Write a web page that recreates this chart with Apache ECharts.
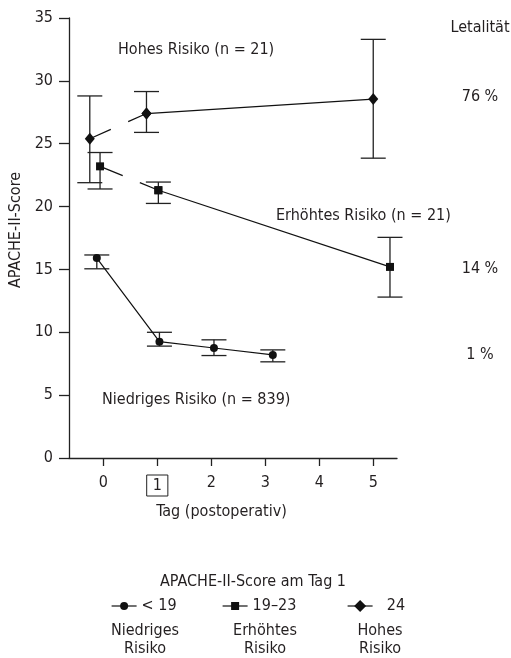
<!DOCTYPE html>
<html><head><meta charset="utf-8">
<script src="https://cdn.jsdelivr.net/npm/echarts@6/dist/echarts.min.js"></script>
<style>html,body{margin:0;padding:0;background:#fff}#c{width:511px;height:658px}</style>
</head><body><div id="c"></div>
<script>
// ---- data ----
const dayTicks = [0, 1, 2, 3, 4, 5];
const yTicks = [0, 5, 10, 15, 20, 25, 30, 35];
// Niedriges Risiko (< 19)
const lowX  = [-0.12, 1.04, 2.05, 3.14];
const lowY  = [15.9, 9.25, 8.75, 8.2];
const lowLo = [15.05, 8.9, 8.15, 7.65];
const lowHi = [16.15, 10.0, 9.4, 8.6];
// Erhöhtes Risiko (19–23)
const midX  = [-0.06, 1.02, 5.31];
const midY  = [23.2, 21.3, 15.2];
const midLo = [21.4, 20.25, 12.8];
const midHi = [24.3, 21.95, 17.55];
// Hohes Risiko (>= 24)
const highX  = [-0.25, 0.80, 5.0];
const highY  = [25.4, 27.4, 28.55];
const highLo = [21.9, 25.9, 23.85];
const highHi = [28.8, 29.15, 33.3];
const lethality = ['76 %', '14 %', '1 %'];
const groupNames = ['< 19', '19–23', '24'];
const groupLabels = ['Niedriges\nRisiko', 'Erhöhtes\nRisiko', 'Hohes\nRisiko'];

const FONT = "'Liberation Sans Narrow','DejaVu Sans Condensed','Noto Sans',sans-serif";
const FS = 16;
const TXT = '#231f20';
const pts = (xs, ys) => xs.map((x, i) => [x, ys[i]]);
const bars = (xs, lo, hi) => xs.map((x, i) => [x, lo[i], hi[i]]);

function errRender(params, api) {
  const x = api.value(0);
  const p = api.coord([x, api.value(2)]);
  const q = api.coord([x, api.value(1)]);
  const w = 12.5;
  const st = { stroke: '#222', lineWidth: 1.3 };
  return { type: 'group', children: [
    { type: 'line', shape: { x1: p[0], y1: p[1], x2: q[0], y2: q[1] }, style: st },
    { type: 'line', shape: { x1: p[0] - w, y1: p[1], x2: p[0] + w, y2: p[1] }, style: st },
    { type: 'line', shape: { x1: q[0] - w, y1: q[1], x2: q[0] + w, y2: q[1] }, style: st }
  ]};
}
function errSeries(data) {
  return { type: 'custom', renderItem: errRender, data: data, z: 1, silent: true };
}
const lineBase = (name, data, symbol, size, extra) => Object.assign({
  name: name, type: 'line', data: data, symbol: symbol, symbolSize: size,
  showSymbol: true, z: 3, silent: true,
  itemStyle: { color: '#111' },
  lineStyle: { color: '#111', width: 1.2 }
}, extra || {});

const txt = (text, x, y, extra) => ({ type: 'text', x: x, y: y,
  style: Object.assign({ text: text, font: FS + 'px ' + FONT, fill: TXT, align: 'center', verticalAlign: 'middle' }, extra || {}) });

const chart = echarts.init(document.getElementById('c'));
const legendLeft = [111, 222, 347];
const legendIconH = [10, 10, 15];
chart.setOption({
  animation: false,
  backgroundColor: '#fff',
  textStyle: { fontFamily: FONT, color: TXT },
  grid: { left: 69, right: 114, top: 18, bottom: 200, containLabel: false, outerBoundsMode: 'none' },
  xAxis: {
    type: 'value', min: -0.635, max: 5.44,
    name: 'Tag (postoperativ)', nameLocation: 'middle', nameGap: 46,
    nameTextStyle: { fontFamily: FONT, fontSize: FS, color: TXT, padding: [0, 23, 0, 0] },
    axisLine: { lineStyle: { color: '#222', width: 1.3 } },
    axisTick: { customValues: dayTicks, length: 8, lineStyle: { color: '#222', width: 1.3 } },
    axisLabel: {
      customValues: dayTicks, margin: 17, fontFamily: FONT, fontSize: FS, color: TXT,
      formatter: v => v === 1 ? '{b|1}' : String(v),
      rich: { b: { fontFamily: FONT, fontSize: FS, color: TXT, borderColor: '#222', borderWidth: 1, padding: [3, 6, 2, 6] } }
    },
    splitLine: { show: false }
  },
  yAxis: {
    type: 'value', min: 0, max: 35, interval: 5,
    name: 'APACHE-II-Score', nameLocation: 'middle', nameGap: 44, nameRotate: 90,
    nameTextStyle: { fontFamily: FONT, fontSize: FS, color: TXT, padding: [0, 0, 0, 16] },
    axisLine: { show: true, onZero: false, lineStyle: { color: '#222', width: 1.3 } },
    axisTick: { show: true, length: 10, lineStyle: { color: '#222', width: 1.3 } },
    axisLabel: { margin: 16, fontFamily: FONT, fontSize: FS, color: TXT,
      formatter: v => yTicks.includes(v) ? String(v) : '' },
    splitLine: { show: false }
  },
  legend: groupNames.map((n, i) => ({
    data: [n], left: legendLeft[i], top: 598, itemWidth: 25, itemHeight: legendIconH[i], itemGap: 5,
    selectedMode: false, padding: 0,
    formatter: name => name === '24' ? '  24' : name,
    textStyle: { fontFamily: FONT, fontSize: FS, color: TXT },
    lineStyle: { type: 'solid', width: 1.2, color: '#111' }
  })),
  series: [
    errSeries(bars(lowX, lowLo, lowHi)),
    errSeries(bars(midX, midLo, midHi)),
    errSeries(bars(highX, highLo, highHi)),
    lineBase('< 19', pts(lowX, lowY), 'circle', 8),
    lineBase('19–23 a', pts(midX, midY).slice(0, 2), 'rect', 8,
      { lineStyle: { color: '#111', width: 1.2, type: [24.5, 18.5, 40] } }),
    lineBase('19–23', pts(midX, midY).slice(1), 'rect', 8),
    lineBase('24 a', pts(highX, highY).slice(0, 2), 'diamond', [10, 12],
      { lineStyle: { color: '#111', width: 1.2, type: [23, 19, 40] } }),
    lineBase('24', pts(highX, highY).slice(1), 'diamond', [10, 12])
  ],
  graphic: [
    txt('Hohes Risiko (n = 21)', 118, 50, { align: 'left' }),
    txt('Erhöhtes Risiko (n = 21)', 276, 216, { align: 'left' }),
    txt('Niedriges Risiko (n = 839)', 102, 400, { align: 'left' }),
    txt('Letalität', 480, 28),
    txt(lethality[0], 480, 97),
    txt(lethality[1], 480, 269),
    txt(lethality[2], 480, 355),
    txt('APACHE-II-Score am Tag 1', 253, 582),
    txt(groupLabels[0], 145, 640, { lineHeight: 18 }),
    txt(groupLabels[1], 265, 640, { lineHeight: 18 }),
    txt(groupLabels[2], 380, 640, { lineHeight: 18 })
  ]
});
</script></body></html>
